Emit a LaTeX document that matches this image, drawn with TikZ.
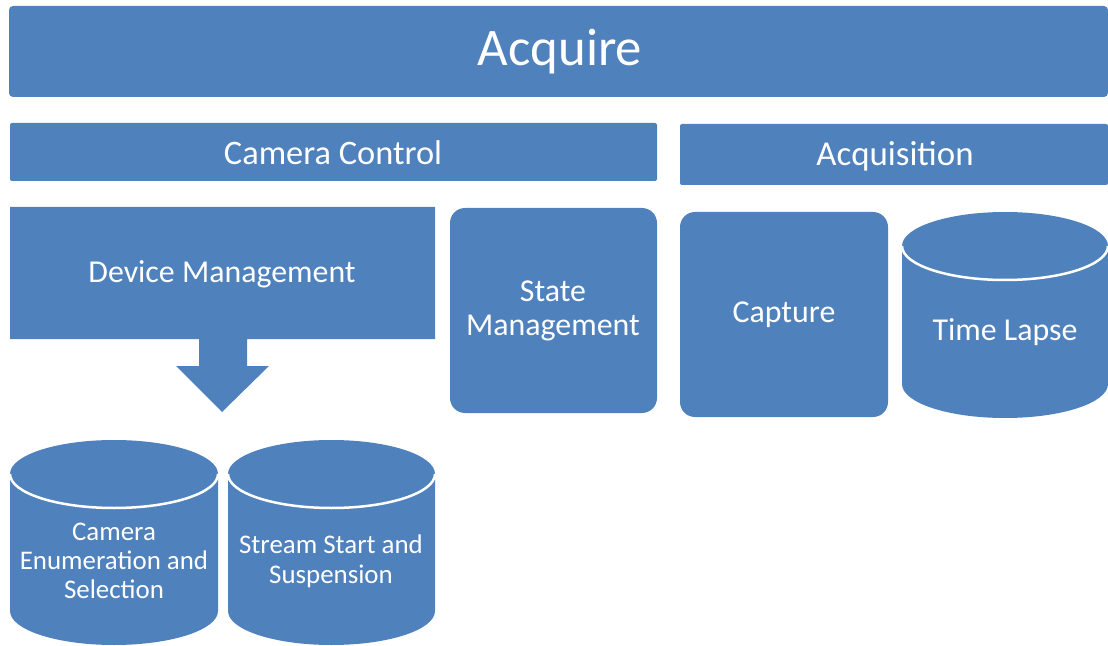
\documentclass[tikz,border=0pt]{standalone}
\usepackage{fontspec}
\setmainfont{Carlito}
\definecolor{boxblue}{HTML}{4F81BD}

\tikzset{
  box/.style={fill=boxblue},
  lbl/.style={text=white,align=center,inner sep=0pt},
  rim/.style={draw=white,line width=2.5bp}
}

% cylinder: centre x, top y, bottom y, half width
\newcommand{\drum}[4]{%
  \fill[boxblue] (#1-#4,#2+34) -- (#1-#4,#3-34)
    arc[start angle=180,end angle=0,x radius=#4,y radius=34]
    -- (#1+#4,#2+34)
    arc[start angle=0,end angle=-180,x radius=#4,y radius=34] -- cycle;
  \draw[rim] (#1-#4,#2+34)
    arc[start angle=180,end angle=360,x radius=#4,y radius=-34];
}

\begin{document}
\begin{tikzpicture}[x=1bp,y=-1bp]

  \useasboundingbox (0,0) rectangle (1108,646);

  % top bars
  \fill[box,rounded corners=4bp] (9,6) rectangle (1108,97);
  \fill[box,rounded corners=2bp] (10,123) rectangle (657,181);
  \fill[box,rounded corners=2bp] (680,124) rectangle (1108,185);

  \node[lbl,font=\fontsize{53}{60}\selectfont] (acquire) at (560,52) {Acquire};
  \node[lbl,font=\fontsize{34.5}{40}\selectfont] (camctl)  at (333,153) {Camera Control};
  \node[lbl,font=\fontsize{35}{40}\selectfont] (acqn)    at (895,156) {Acquisition};

  % device management callout
  \fill[box] (10,207) -- (435,207) -- (435,339) -- (247,339) -- (247,366)
    -- (269,366) -- (222,412) -- (176,366) -- (199,366) -- (199,339)
    -- (10,339) -- cycle;
  \node[lbl,font=\fontsize{32}{38}\selectfont] (devmgmt) at (222,274) {Device Management};

  % rounded boxes
  \fill[box,rounded corners=15bp] (450,208) rectangle (657,413);
  \fill[box,rounded corners=15bp] (680,212) rectangle (888,417);
  \node[lbl,font=\fontsize{32}{34}\selectfont] (statemgmt) at (553,311) {State\\Management};
  \node[lbl,font=\fontsize{32}{38}\selectfont] (capture)   at (784,315) {Capture};

  % cylinders
  \drum{1005}{212}{418}{103}
  \drum{114}{440}{645}{104}
  \drum{331.5}{440}{645}{103.5}

  \node[lbl,font=\fontsize{32}{38}\selectfont] (timelapse) at (1005,332) {Time Lapse};
  \node[lbl,font=\fontsize{27}{29}\selectfont] (camenum) at (114,561) {Camera\\Enumeration and\\Selection};
  \node[lbl,font=\fontsize{27}{30}\selectfont] (stream)  at (331,561) {Stream Start and\\Suspension};

\end{tikzpicture}
\end{document}
